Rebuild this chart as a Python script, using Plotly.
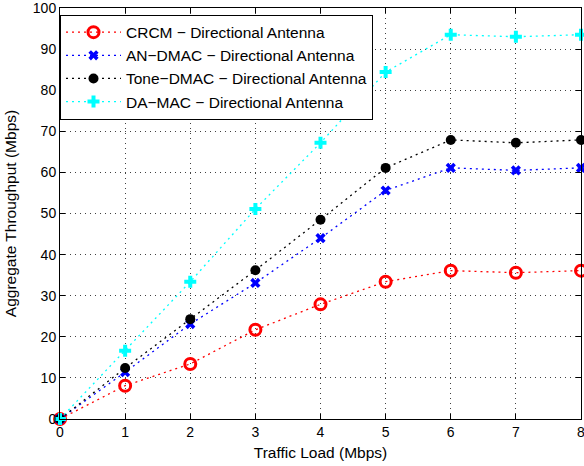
import plotly.graph_objects as go

# Traffic load (Mbps) and aggregate throughput (Mbps) per protocol
traffic_load = [0, 1, 2, 3, 4, 5, 6, 7, 8]
crcm = [0, 8.1, 13.4, 21.7, 27.9, 33.4, 36.1, 35.6, 36.1]
an_dmac = [0, 11.4, 23.1, 33.1, 44.0, 55.6, 61.1, 60.5, 61.1]
tone_dmac = [0, 12.4, 24.3, 36.2, 48.5, 61.1, 67.9, 67.2, 67.9]
da_mac = [0, 16.6, 33.4, 51.1, 67.2, 84.4, 93.5, 93.0, 93.5]

series_names = [
    "CRCM − Directional Antenna",
    "AN−DMAC − Directional Antenna",
    "Tone−DMAC − Directional Antenna",
    "DA−MAC − Directional Antenna",
]
x_ticks = list(range(0, 9))
y_ticks = list(range(0, 101, 10))

FONT = "Liberation Sans, Arial, Helvetica, sans-serif"

styles = [
    dict(color="#ff0000", symbol="circle-open", size=11, mline=dict(color="#ff0000", width=3)),
    dict(color="#0000ff", symbol="x", size=9, mline=dict(width=0)),
    dict(color="#000000", symbol="circle", size=10, mline=dict(width=0)),
    dict(color="#00ffff", symbol="cross", size=10, mline=dict(width=0)),
]

fig = go.Figure()
for name, ys, st in zip(series_names, [crcm, an_dmac, tone_dmac, da_mac], styles):
    fig.add_trace(go.Scatter(
        x=traffic_load, y=ys, name=name, mode="lines+markers",
        line=dict(color=st["color"], width=1.3, dash="2px,4px"),
        marker=dict(symbol=st["symbol"], size=st["size"], color=st["color"],
                    line=st["mline"]),
        cliponaxis=False,
    ))

axis_common = dict(
    showline=True, linecolor="black", linewidth=1, mirror="allticks",
    ticks="inside", ticklen=5, tickcolor="black", tickwidth=1,
    showgrid=True, gridcolor="rgba(0,0,0,0.75)", gridwidth=1, griddash="1px,4px",
    zeroline=False, ticklabeloverflow="allow", automargin=False,
    tickfont=dict(family=FONT, size=14, color="black"),
    title_font=dict(family=FONT, size=15.5, color="black"),
)

fig.update_xaxes(range=[0, 8], tickvals=x_ticks, title_text="Traffic Load (Mbps)",
                 title_standoff=8, **axis_common)
fig.update_yaxes(range=[0, 100], tickvals=y_ticks, title_text="Aggregate Throughput (Mbps)",
                 title_standoff=12, **axis_common)

fig.update_layout(
    width=584, height=466,
    margin=dict(l=60, r=2.5, t=8.4, b=46.6),
    paper_bgcolor="white", plot_bgcolor="white",
    font=dict(family=FONT, size=14, color="black"),
    showlegend=True,
    legend=dict(
        x=0, y=0.984, xanchor="left", yanchor="top",
        bgcolor="white", bordercolor="black", borderwidth=1,
        font=dict(family=FONT, size=15.5, color="black"),
        itemwidth=55, tracegroupgap=0,
    ),
)

fig.write_html("out.html")
